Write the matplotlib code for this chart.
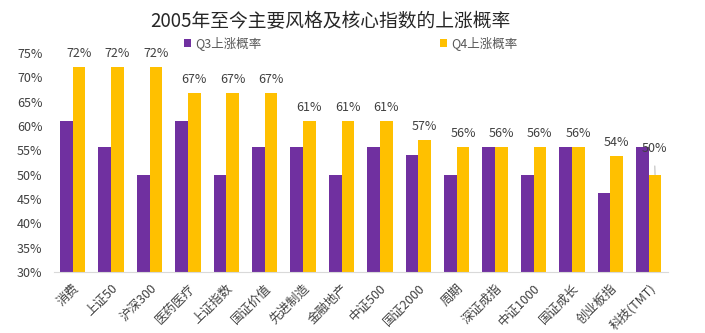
import matplotlib
matplotlib.use('Agg')
import matplotlib.pyplot as plt
import numpy as np

plt.rcParams['font.family'] = ['Noto Sans CJK SC', 'DejaVu Sans']

# 各指数 Q3 / Q4 上涨概率 (%)
names = ['消费', '上证50', '沪深300', '医药医疗', '上证指数', '国证价值', '先进制造', '金融地产',
         '中证500', '国证2000', '周期', '深证成指', '中证1000', '国证成长', '创业板指', '科技(TMT)']
q3 = [61.1, 55.6, 50.0, 61.1, 50.0, 55.6, 55.6, 50.0,
      55.6, 54.0, 50.0, 55.6, 50.0, 55.6, 46.2, 55.6]
q4 = [72.2, 72.2, 72.2, 66.7, 66.7, 66.7, 61.1, 61.1,
      61.1, 57.1, 55.6, 55.6, 55.6, 55.6, 53.8, 50.0]
yticks = [30, 35, 40, 45, 50, 55, 60, 65, 70, 75]

purple = '#7030A0'
yellow = '#FFC000'

fig = plt.figure(figsize=(7.05, 3.33), dpi=100)
ax = fig.add_axes([0.0759, 0.1832, 0.8715, 0.6577])

x = np.arange(len(names))
w = 0.33
b3 = ax.bar(x - w / 2, q3, w, color=purple, label='Q3上涨概率')
b4 = ax.bar(x + w / 2, q4, w, color=yellow, label='Q4上涨概率')

# 数据标签只标 Q4，最后一个用引导线
for i, v in enumerate(q4):
    if i == len(q4) - 1:
        ax.annotate('%d%%' % round(v), xy=(i + w / 2, v), xytext=(i + w / 2 - 0.02, 55.4),
                    ha='center', va='center', fontsize=9, color='#404040',
                    arrowprops=dict(arrowstyle='-', color='#BFBFBF', lw=0.8,
                                    shrinkA=6, shrinkB=0))
    else:
        ax.annotate('%d%%' % round(v), xy=(i + w / 2, v), xytext=(0, 5),
                    textcoords='offset points', ha='center', va='bottom',
                    fontsize=9, color='#404040')

ax.set_xlim(-0.5, len(names) - 0.5)
ax.set_ylim(30, 75)
ax.set_yticks(yticks)
ax.set_yticklabels(['%d%%' % t for t in yticks], fontsize=9, color='#404040')
ax.set_xticks(x)
ax.set_xticklabels(names, rotation=45, ha='right', rotation_mode='anchor',
                   fontsize=9, color='#404040')
ax.tick_params(axis='both', length=0)
ax.tick_params(axis='y', pad=8)
ax.tick_params(axis='x', pad=7)
for s in ['top', 'right', 'left']:
    ax.spines[s].set_visible(False)
ax.spines['bottom'].set_color('#D9D9D9')

fig.text(0.468, 0.934, '2005年至今主要风格及核心指数的上涨概率', ha='center', va='center',
         fontsize=13.5, color='#262626')
fig.legend(handles=[b3, b4], loc='center', bbox_to_anchor=(0.497, 0.871), ncol=2,
           frameon=False, fontsize=9, handlelength=0.6, handleheight=0.6,
           handletextpad=0.3, columnspacing=14.3, labelcolor='#595959')

fig.savefig('out.png', dpi=100)
